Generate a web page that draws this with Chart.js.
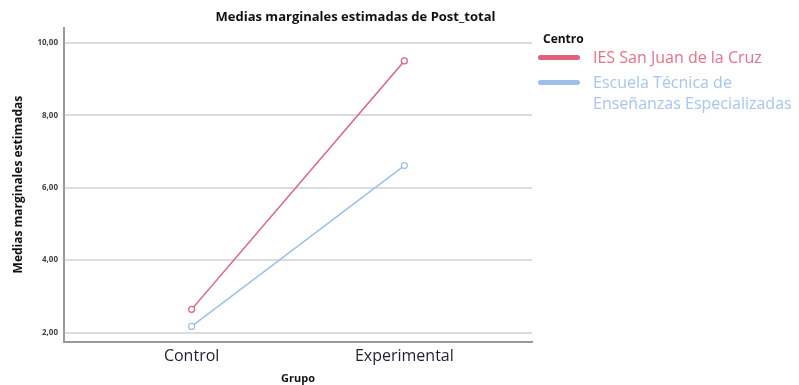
<!DOCTYPE html>
<html>
<head>
<meta charset="utf-8">
<script src="https://cdn.jsdelivr.net/npm/chart.js@4"></script>
<style>
  html, body { margin: 0; padding: 0; background: #fff; }
  #wrap { position: relative; width: 799px; height: 385px; }
  #chart { position: absolute; left: 0; top: 0; }
  #legend { position: absolute; left: 538px; top: 31px; font-family: "Open Sans", sans-serif; }
  #legend .head { font-weight: bold; font-size: 12px; line-height: 16px; color: #111; margin: 0 0 0 5px; }
  #legend .item { display: flex; align-items: flex-start; font-size: 16px; line-height: 21px; }
  #legend .item + .item { margin-top: 4px; }
  #legend .swatch { width: 42px; height: 5px; border-radius: 3px; margin: 8px 13px 0 0; flex: none; }
</style>
</head>
<body>
<div id="wrap">
  <canvas id="chart" width="706" height="385"></canvas>
  <div id="legend"></div>
</div>
<script>
// Data
const grupos = ['Control', 'Experimental'];
const centros = ['IES San Juan de la Cruz', 'Escuela Técnica de\nEnseñanzas Especializadas'];
const iesValues = [2.64, 9.50];
const escuelaValues = [2.17, 6.61];
const yTicks = [2, 4, 6, 8, 10];

const colors = ['#e2607b', '#9cc0ea'];
const legendText = ['#ec6f88', '#a5c6ef'];

function toPoints(values) {
    return values.map((v, i) => ({ x: i, y: v }));
}

const ctx = document.getElementById('chart').getContext('2d');

new Chart(ctx, {
    type: 'line',
    data: {
        datasets: [
            {
                label: centros[0],
                data: toPoints(iesValues),
                borderColor: colors[0],
                backgroundColor: '#ffffff',
                borderWidth: 1.5,
                pointRadius: 3,
                pointBorderWidth: 1.2,
                tension: 0
            },
            {
                label: centros[1],
                data: toPoints(escuelaValues),
                borderColor: colors[1],
                backgroundColor: '#ffffff',
                borderWidth: 1.5,
                pointRadius: 3,
                pointBorderWidth: 1.2,
                tension: 0
            }
        ]
    },
    options: {
        responsive: false,
        animation: false,
        layout: { padding: { left: 5, right: 0, top: 0, bottom: 0 } },
        scales: {
            x: {
                type: 'linear',
                min: -0.6,
                max: 1.6,
                afterBuildTicks: axis => { axis.ticks = grupos.map((g, i) => ({ value: i })); },
                ticks: {
                    callback: v => grupos[v],
                    color: '#1e2230',
                    padding: 5,
                    font: { family: 'Open Sans', size: 16 }
                },
                grid: { display: false, drawTicks: false },
                border: { display: true, color: '#999', width: 2 },
                title: {
                    display: true,
                    text: 'Grupo',
                    color: '#111',
                    font: { family: 'Open Sans', size: 11, weight: 'bold' },
                    padding: { top: 1, bottom: 0 }
                }
            },
            y: {
                min: 1.75,
                max: 10.42,
                afterBuildTicks: axis => { axis.ticks = yTicks.map(v => ({ value: v })); },
                ticks: {
                    callback: v => v.toFixed(2).replace('.', ','),
                    color: '#444',
                    padding: 6,
                    font: { family: 'Open Sans', size: 8, weight: 'bold' }
                },
                grid: { color: '#dcdcdc', lineWidth: 2, drawTicks: false },
                border: { display: true, color: '#999', width: 2 },
                title: {
                    display: true,
                    text: 'Medias marginales estimadas',
                    color: '#111',
                    font: { family: 'Open Sans', size: 12, weight: 'bold' },
                    padding: { top: 6, bottom: 6 }
                }
            },
            // empty axis on the right, only to reserve the legend room
            spacer: {
                type: 'linear',
                position: 'right',
                display: true,
                grid: { display: false },
                border: { display: false },
                ticks: { display: false },
                afterFit: axis => { axis.width = 174; }
            }
        },
        plugins: {
            legend: { display: false },
            tooltip: { enabled: false },
            title: {
                display: true,
                text: 'Medias marginales estimadas de Post_total',
                color: '#111',
                font: { family: 'Open Sans', size: 13, weight: 'bold' },
                padding: { top: 9, bottom: 3 }
            }
        }
    }
});

// HTML legend with the wrapped second label
const legend = document.getElementById('legend');
legend.innerHTML = '<div class="head">Centro</div>' + centros.map((c, i) =>
    `<div class="item"><span class="swatch" style="background:${colors[i]}"></span>` +
    `<span style="color:${legendText[i]}">${c.replace('\n', '<br>')}</span></div>`
).join('');
</script>
</body>
</html>
